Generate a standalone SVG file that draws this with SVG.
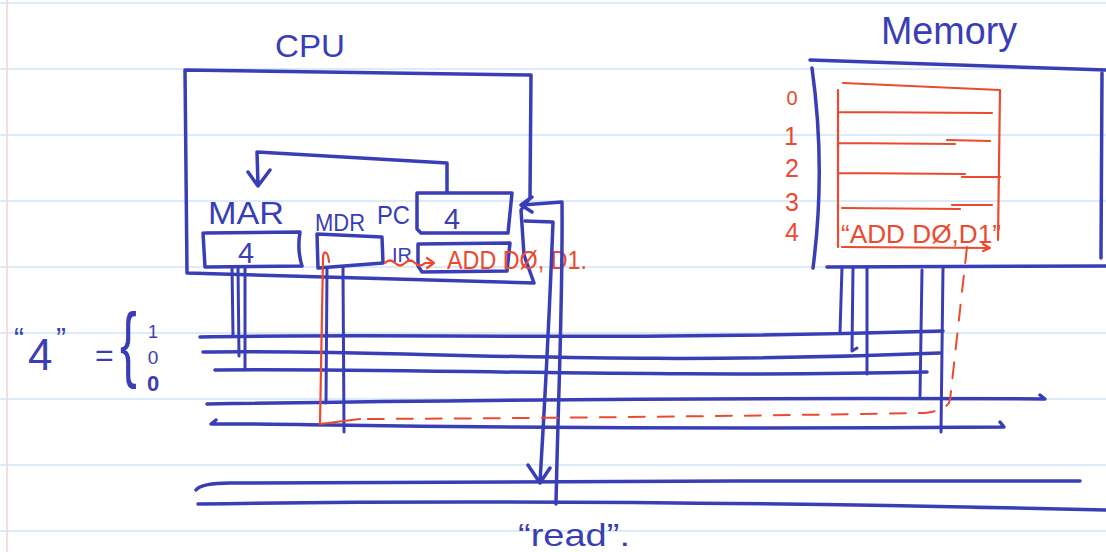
<svg xmlns="http://www.w3.org/2000/svg" width="1106" height="552" viewBox="0 0 1106 552">
<style>
.paper{stroke:#cfe6f6;stroke-width:1.5;fill:none}
.b{stroke:#3a3eb6;stroke-width:3.5;fill:none;stroke-linecap:round;stroke-linejoin:round}
.bt{stroke:#3a3eb6;stroke-width:3;fill:none;stroke-linecap:round;stroke-linejoin:round}
.r{stroke:#ec4a2f;stroke-width:2.2;fill:none;stroke-linecap:round;stroke-linejoin:round}
.rd{stroke:#ec4a2f;stroke-width:2;fill:none;stroke-linecap:round;stroke-dasharray:16 13}
.tb{fill:#3a3eb6;font-family:"Liberation Sans",Arial,sans-serif}
.tr{fill:#ec4a2f;font-family:"Liberation Sans",Arial,sans-serif}
</style>
<rect width="1106" height="552" fill="#ffffff"/>
<g id="paper">
<path class="paper" d="M0,3H1106M0,69H1106M0,135H1106M0,201H1106M0,267H1106M0,333H1106M0,399H1106M0,465H1106M0,531H1106"/>
<path d="M7,0V552" stroke="#f6d3d6" stroke-width="1.5"/>
</g>
<g id="cpu">
<path class="b" d="M185,70 L531,75 L530,198 L521,210 L524,255 L534,283 L187,273 Z"/>
<text class="tb" x="275" y="57" font-size="32" textLength="70" lengthAdjust="spacingAndGlyphs">CPU</text>
</g>
<g id="mar">
<text class="tb" x="208" y="224" font-size="31" textLength="76" lengthAdjust="spacingAndGlyphs">MAR</text>
<path class="b" d="M205,233 L300,232 Q297,250 302,266 L205,267 L203,233"/>
<text class="tb" x="246" y="263" font-size="29" text-anchor="middle">4</text>
</g>
<g id="mdr">
<text class="tb" x="315" y="231" font-size="24" textLength="50" lengthAdjust="spacingAndGlyphs">MDR</text>
<path class="b" d="M317,234 L382,237 L383,263 L318,268 L317,234"/>
</g>
<g id="pc">
<text class="tb" x="377" y="224" font-size="25" textLength="33" lengthAdjust="spacingAndGlyphs">PC</text>
<path class="b" d="M417,193 L512,193 L508,233 L421,233 L417,229 L417,193"/>
<text class="tb" x="452" y="229" font-size="29" text-anchor="middle">4</text>
</g>
<g id="ir">
<text class="tb" x="392" y="262" font-size="20" textLength="20" lengthAdjust="spacingAndGlyphs">IR</text>
<path class="b" d="M418,244 L510,243 L507,271 L422,272 L418,266 L418,244"/>
<text class="tr" x="447" y="269" font-size="26" textLength="140" lengthAdjust="spacingAndGlyphs">ADD DØ, D1.</text>
</g>
<g id="memory">
<text class="tb" x="881" y="44" font-size="38" textLength="136" lengthAdjust="spacingAndGlyphs">Memory</text>
<path class="b" d="M810,60 L1106,70 M812,68 Q826,168 813,268 M827,267 L1106,266 M1102,73 L1101,258"/>
<path class="r" d="M843,83 L1000,90 M838,90 L838,247 M1000,90 L998,240 M838,112 L992,113 M838,143 L955,144 M947,140 L990,141 M838,173 L965,174 M962,177 L1000,177 M842,208 L960,209 M952,205 L992,205 M842,247 L990,248 M983,244 L990,248 L983,251"/>
<text class="tr" x="841" y="243" font-size="25" textLength="160" lengthAdjust="spacingAndGlyphs">“ADD DØ,D1”</text>
<g class="tr" font-size="25" text-anchor="middle">
<text x="792" y="105" font-size="20">0</text>
<text x="791" y="145">1</text>
<text x="792" y="177">2</text>
<text x="792" y="211">3</text>
<text x="792" y="241">4</text>
</g>
</g>
<g id="connectors">
<path class="b" d="M447,192 L447,163 L257,152 L258,185 M248,172 L258,186 L270,170"/>
<path class="b" d="M200,337 C400,333 600,341 943,331"/>
<path class="b" d="M203,352 C400,349 600,367 940,353"/>
<path class="b" d="M215,370 C400,368 650,378 927,372"/>
<path class="b" d="M207,404 C400,401 700,397 1045,399 L1040,395"/>
<path class="b" d="M216,420 L211,424 C300,423 500,431 1004,427 L1000,422"/>
<path class="b" d="M196,490 C200,485 210,483 230,483 C500,482 800,480 1080,481"/>
<path class="b" d="M198,504 C500,499 800,503 1106,510"/>
<path class="bt" d="M232,267 L233,335 M238,267 L239,356 M245,267 L245,369"/>
<path class="bt" d="M327,268 L326,403 M343,268 L344,432"/>
<path class="bt" d="M842,267 L840,333 M853,267 L852,351 L857,348 M867,268 L867,374 M922,270 L920,396 M943,267 L941,432"/>
<path class="b" d="M522,205 L562,202 C563,300 558,400 556,504 M532,197 L521,205 L532,212"/>
<path class="b" d="M525,221 L553,222 C550,300 545,400 540,482 M528,465 L540,483 L550,468"/>
<path class="rd" d="M967,247 L950,400 Q948,410 925,413 C800,415 600,418 360,419"/>
<path class="r" d="M360,419 L320,424 L323,258 C323,250 328,250 329,262"/>
<path class="r" d="M385,263 q5,-5 10,0 t10,0 t10,0 t10,0 L433,263 M427,258 L434,263 L427,268"/>
</g>
<g id="labels">
<text class="tb"><tspan x="14" y="348" font-size="30">“</tspan><tspan x="28" y="370" font-size="44">4</tspan><tspan x="56" y="348" font-size="30">”</tspan></text>
<text class="tb" x="95" y="366" font-size="32">=</text>
<text class="tb" transform="translate(120,372) scale(0.6,1)" font-size="84">{</text>
<text class="tb" x="153" y="338" font-size="18" text-anchor="middle">1</text>
<text class="tb" x="153" y="364" font-size="19" text-anchor="middle">0</text>
<text class="tb" x="153" y="391" font-size="22" font-weight="bold" text-anchor="middle">0</text>
<text class="tb" x="518" y="546" font-size="32" textLength="112" lengthAdjust="spacingAndGlyphs">“read”.</text>
</g>
</svg>
